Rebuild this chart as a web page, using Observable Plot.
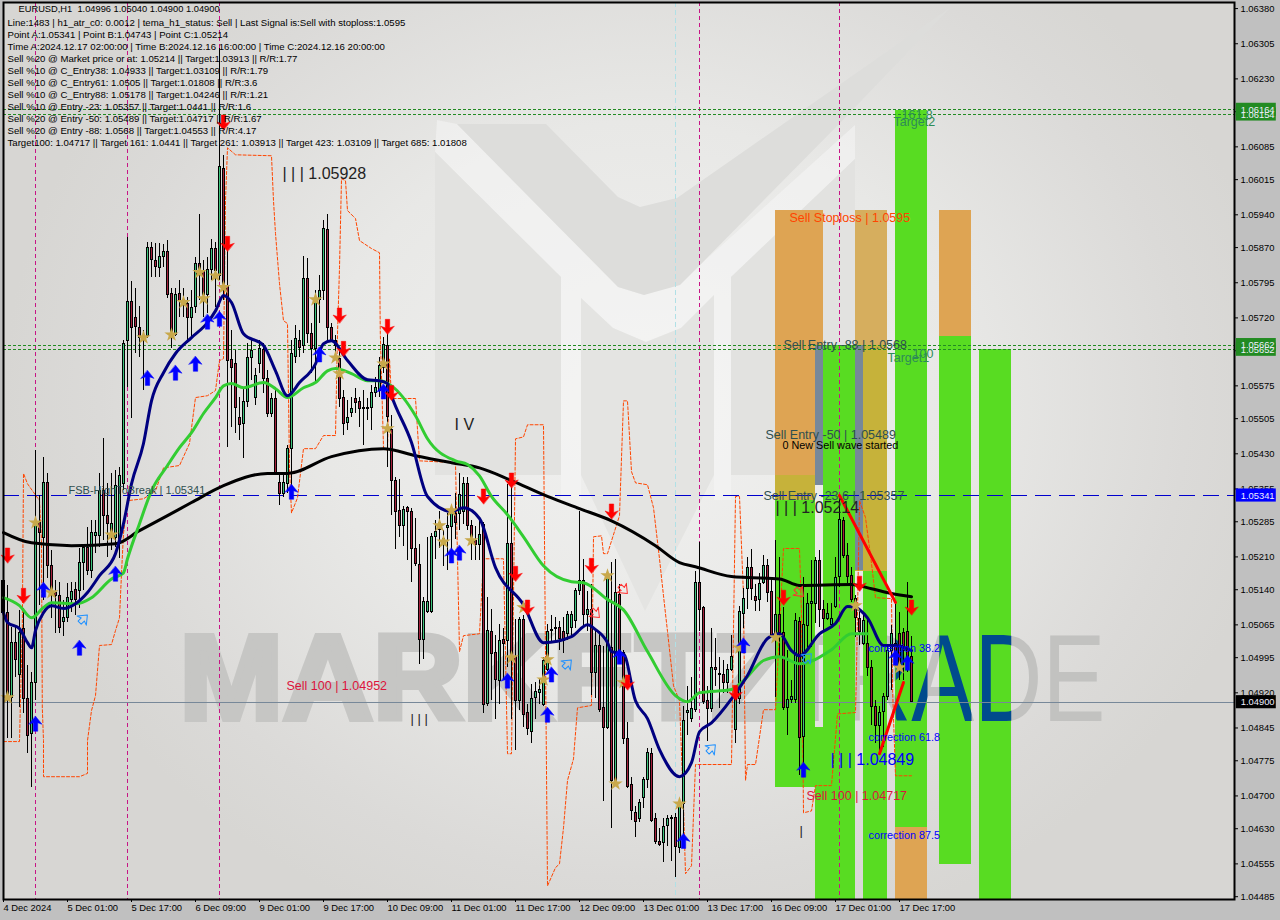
<!DOCTYPE html>
<html>
<head>
<meta charset="utf-8">
<script src="https://cdn.jsdelivr.net/npm/d3@7"></script>
<script src="https://cdn.jsdelivr.net/npm/@observablehq/plot@0.6"></script>
<style>
html,body{margin:0;padding:0;background:#c0c0c0}
#wrap{position:relative;width:1280px;height:920px;overflow:hidden;background:#c0c0c0}
#bg{position:absolute;left:3px;top:2px;width:1231px;height:897px;overflow:hidden;
background:radial-gradient(ellipse 640px 560px at 640px 400px,#f1f1f0 0,#e8e8e6 50%,#dbdad8 85%,#d7d6d3 100%)}
.lg{position:absolute;left:-3px;top:-2px;width:1280px;height:920px}
#chart{position:absolute;left:0;top:0}
#chart svg{background:transparent;display:block}
</style>
</head>
<body>
<div id="wrap">
<div id="bg">
<div class="lg" style="background:#f6f6f6;opacity:.55;clip-path:polygon(437px 120px,457px 124px,618px 287px,644px 295px,700px 265px,855px 125px,855px 159px,731px 277px,731px 500px,714px 500px,714px 295px,681px 328px,646px 342px,613px 328px,581px 298px,581px 500px,561px 500px,561px 277px,435px 152px)"></div>
<div class="lg" style="background:#dddddb;clip-path:polygon(457px 124px,546px 124px,618px 197px,640px 207px,677px 198px,951px 7px,840px 123px,700px 265px,680px 285px,644px 295px,618px 287px)"></div>
<div class="lg" style="background:#e2e2e0;clip-path:polygon(435px 152px,561px 277px,561px 475px,435px 475px)"></div>
<div class="lg" style="background:#e4e4e2;clip-path:polygon(581px 298px,613px 328px,646px 342px,681px 328px,714px 295px,714px 475px,645px 611px,581px 475px)"></div>
<div class="lg" style="background:#e2e2e0;clip-path:polygon(731px 277px,855px 159px,855px 475px,731px 475px)"></div>
</div>
<div id="chart"></div>
</div>
<script>
// Prices are stored as points: 5341 means 1.05341. Each row: open, close, high, low.
const candles = [
[5159,5091,5181,5031],[5091,4910,5149,4822],[4910,5027,5059,4822],[5027,4989,5063,4952],[4957,5048,5095,4888],
[5057,4907,5100,4875],[4907,4828,4978,4790],[4833,4942,4963,4718],[4942,5283,5437,4903],[5283,5262,5341,5106],
[5251,5368,5422,5117],[5368,5191,5388,5163],[5191,5138,5223,5078],[5134,5127,5159,5046],[5127,5059,5155,5046],
[5072,5080,5117,5040],[5080,5123,5153,5070],[5119,5136,5155,5091],[5140,5119,5155,5085],[5138,5196,5228,5100],
[5196,5228,5234,5138],[5228,5179,5272,5170],[5179,5262,5287,5164],[5255,5262,5287,5217],[5255,5351,5388,5230],
[5351,5298,5462,5245],[5298,5281,5366,5208],[5262,5281,5388,5223],[5251,5362,5394,5230],[5238,5383,5400,5206],
[5366,5665,5671,5351],[5671,5753,5891,5571],[5753,5699,5797,5505],[5720,5701,5782,5644],[5699,5678,5744,5635],
[5682,5676,5693,5565],[5682,5870,5881,5676],[5870,5844,5881,5806],[5842,5829,5878,5806],[5827,5851,5878,5806],
[5849,5861,5876,5827],[5861,5768,5885,5761],[5770,5689,5782,5654],[5684,5768,5782,5680],[5770,5757,5799,5720],
[5759,5750,5782,5720],[5750,5720,5763,5665],[5720,5742,5778,5678],[5744,5834,5849,5729],[5836,5823,5940,5757],
[5821,5768,5842,5720],[5768,5823,5849,5729],[5823,5868,5887,5799],[5866,5821,5881,5742],[5810,6041,6295,5799],
[6038,5785,6066,5757],[5785,5629,5863,5443],[5631,5614,5693,5486],[5622,5528,5650,5473],[5507,5492,5550,5458],
[5494,5541,5571,5420],[5541,5635,5665,5528],[5635,5650,5671,5586],[5550,5597,5612,5533],[5622,5654,5671,5601],
[5652,5590,5665,5558],[5590,5516,5607,5507],[5516,5546,5558,5507],[5546,5388,5571,5383],[5368,5345,5388,5319],
[5345,5368,5388,5336],[5366,5441,5447,5345],[5441,5642,5671,5351],[5637,5674,5703,5622],[5671,5656,5693,5635],
[5661,5802,5851,5644],[5802,5686,5846,5665],[5686,5654,5708,5601],[5654,5759,5778,5582],[5759,5778,5810,5708],
[5778,5910,5927,5757],[5908,5699,5940,5671],[5699,5671,5708,5667],[5671,5661,5682,5635],[5633,5548,5656,5528],
[5550,5494,5565,5469],[5496,5507,5543,5479],[5518,5526,5550,5507],[5546,5539,5569,5516],[5541,5526,5550,5486],
[5528,5526,5565,5447],[5528,5526,5548,5501],[5528,5560,5575,5479],[5560,5571,5593,5550],[5565,5618,5635,5550],
[5614,5663,5678,5601],[5659,5508,5690,5400],[5481,5372,5512,5298],[5372,5306,5380,5225],[5308,5277,5376,5252],
[5277,5310,5318,5233],[5314,5306,5318,5202],[5305,5226,5314,5155],[5227,5194,5291,5190],[5192,5033,5236,4980],
[5033,5114,5124,4992],[5093,5114,5252,5089],[5093,5252,5260,5089],[5252,5264,5287,5205],[5283,5267,5306,5229],
[5248,5240,5267,5190],[5271,5275,5302,5182],[5273,5306,5314,5205],[5302,5283,5345,5248],[5302,5343,5388,5267],
[5306,5366,5380,5279],[5366,5275,5380,5267],[5275,5248,5287,5202],[5244,5236,5275,5202],[5236,5257,5291,5202],
[5279,4895,5283,4876],[4897,5052,5124,4891],[5050,5002,5097,4903],[5004,4948,5042,4864],[4945,5031,5066,4895],
[5033,5025,5058,4949],[5031,5238,5364,4973],[5238,4996,5376,4864],[4996,4903,5077,4798],[4903,5075,5081,4883],
[5075,4872,5085,4845],[4876,4842,4895,4829],[4837,4907,4938,4811],[4909,4922,4942,4864],[4920,4925,4949,4895],
[4895,4988,4996,4891],[4969,5050,5066,4965],[5052,5054,5085,5027],[5056,5058,5081,5027],[5058,5035,5073,5011],
[5050,5031,5081,5004],[5046,5085,5093,5031],[5058,5085,5093,5039],[5073,5137,5143,5058],[5137,5159,5306,5128],
[5159,5085,5205,5058],[5085,5097,5136,5050],[5097,4963,5151,4914],[4963,5019,5058,4907],[5019,4883,5050,4879],
[4887,4845,5019,4689],[4845,5167,5174,4841],[5015,4732,5198,4631],[4728,5132,5205,4720],[5128,5004,5151,4996],
[5004,4821,5011,4810],[4821,4720,4856,4716],[4723,4668,4740,4647],[4664,4645,4678,4612],[4650,4684,4693,4643],
[4695,4734,4740,4674],[4734,4792,4802,4716],[4790,4647,4802,4643],[4651,4602,4662,4596],[4602,4596,4631,4592],
[4599,4633,4651,4557],[4635,4651,4658,4592],[4651,4652,4658,4561],[4653,4591,4662,4526],[4589,4682,4693,4577],
[4682,4860,4891,4604],[4878,4881,4934,4829],[4864,4886,4953,4856],[4883,5155,5178,4879],[5155,5097,5240,5050],
[5101,4901,5105,4895],[4903,4886,4934,4817],[4886,4974,5058,4879],[4974,4969,5035,4934],[4959,4960,4996,4887],
[4957,4942,4988,4918],[4942,4969,4980,4918],[4969,4997,5042,4965],[4841,4907,4934,4811],[4907,5093,5105,4895],
[5089,5120,5143,5058],[5142,5186,5209,5097],[5186,5142,5225,5116],[5124,5116,5151,5093],[5118,5153,5174,5093],
[5155,5191,5213,5151],[5190,5132,5205,5112],[5136,5042,5159,5039],[5044,5085,5245,4911],[5085,5047,5209,4996],
[5047,4888,5103,4882],[4888,4905,5010,4829],[4904,4911,4946,4897],[4904,5074,5089,4897],[5071,4824,5081,4744],
[4826,5064,5167,4744],[5062,5110,5131,5014],[5110,5113,5202,5017],[5110,5202,5209,5067],[5202,5096,5224,5060],
[5097,5078,5117,5053],[5078,5089,5110,5074],[5064,5078,5110,5060],[5103,5165,5209,5099],[5167,5288,5341,5145],
[5286,5213,5295,5206],[5211,5167,5238,5153],[5169,5118,5188,5113],[5121,5080,5128,5039],[5078,5050,5096,5021],
[5025,5074,5089,5021],[5025,4973,5074,4954],[4973,4890,4989,4850],[4890,4850,4904,4811],[4850,4877,4890,4794],
[4879,4912,4918,4804],[4911,5010,5021,4904],[5010,5045,5064,4925],[5025,4985,5110,4975],[5046,4978,5092,4946],
[5047,5010,5057,4946],[5050,4996,5156,4964],[4996,4900,5040,4900]
];
// Indicator lines: [bar index, points]
const blackLine = [[0,5262],[7,5240],[17,5234],[28,5238],[34,5266],[41,5298],[47,5326],[55,5362],[66,5388],[71,5388],[82,5424],[95,5441],[103,5426],[112,5411],[119,5400],[127,5373],[136,5339],[144,5313],[152,5287],[163,5234],[169,5198],[173,5189],[182,5168],[186,5166],[194,5163],[199,5149],[212,5151],[217,5142],[222,5132],[227,5125]];
const greenLine = [[0,5123],[4,5106],[7,5080],[10,5102],[12,5112],[18,5110],[22,5123],[27,5163],[30,5176],[31,5206],[34,5281],[37,5351],[41,5405],[44,5443],[47,5475],[50,5516],[53,5550],[55,5575],[57,5580],[60,5571],[65,5582],[68,5569],[71,5550],[75,5571],[78,5582],[81,5607],[83,5612],[87,5601],[91,5586],[94,5586],[97,5575],[103,5511],[106,5462],[113,5415],[116,5407],[119,5383],[122,5339],[126,5300],[130,5253],[135,5191],[142,5157],[145,5155],[151,5119],[155,5097],[161,5008],[168,4914],[171,4901],[174,4920],[182,4927],[185,4946],[190,4989],[194,4997],[199,4982],[207,5012],[212,5046],[216,5046]];
const blueLine = [[0,5091],[1,5070],[4,5057],[6,5027],[7,5016],[8,5053],[10,5091],[12,5106],[15,5100],[18,5110],[21,5134],[24,5170],[28,5217],[30,5281],[32,5366],[35,5452],[37,5543],[40,5603],[43,5644],[47,5678],[51,5710],[53,5735],[55,5768],[57,5753],[60,5686],[65,5661],[68,5607],[71,5554],[74,5582],[78,5622],[80,5665],[82,5671],[86,5629],[91,5588],[94,5586],[96,5580],[97,5554],[102,5454],[106,5339],[112,5307],[115,5315],[119,5292],[123,5187],[130,5108],[135,5027],[142,5040],[146,5065],[148,5055],[151,5027],[152,5008],[155,5003],[158,4903],[161,4865],[164,4799],[169,4741],[172,4771],[174,4837],[177,4856],[182,4907],[186,4957],[191,5036],[194,5046],[197,5010],[199,4999],[204,5046],[208,5068],[211,5104],[213,5102],[216,5080],[220,5021],[223,5021],[227,5010]];
const stopLine = [[0,4816],[4,4816],[4.2,4888],[4.7,5053],[5,5388],[6,5366],[9,5330],[9.5,5245],[9.7,4888],[10,4818],[10,4741],[19,4741],[21,4748],[21,4818],[22,4882],[23,4914],[24,5021],[27,5023],[28,5053],[29,5080],[29.5,5174],[30,5260],[31,5330],[35,5334],[38,5351],[40,5400],[44,5405],[46.5,5452],[48,5550],[51,5554],[53,5565],[54,5629],[55,5633],[55.5,5970],[56,6083],[58,6068],[67,6066],[67.5,5970],[68,5900],[69,5793],[70,5714],[71,5708],[71.5,5400],[72,5304],[73.5,5336],[75,5441],[78,5441],[80,5469],[83,5469],[83.5,5686],[84,5827],[84.5,6017],[85.5,6013],[86,5949],[88,5932],[89,5885],[92,5868],[94,5859],[94.2,5686],[95,5443],[96,5437],[96.5,5633],[97,5548],[103,5548],[104,5415],[113,5411],[114,5008],[115,5042],[119,5046],[120,5206],[125,5206],[126,4790],[127,4790],[128,5462],[130,5466],[131,5492],[135,5492],[136,4508],[138,4547],[139,4555],[140,4632],[141,4733],[142.5,4779],[143.5,4888],[147,4893],[147.5,5253],[149.5,5255],[150,5217],[151,5217],[154,5298],[155,5543],[156,5543],[157,5392],[158,5368],[161,5364],[162.5,5315],[164,5206],[165,5127],[166,5051],[167.5,4935],[169,4903],[170,4679],[170.5,4534],[172,4551],[173,4767],[182,4767],[183,5339],[184,5339],[185,5127],[185.5,4733],[186,4767],[188,4767],[190,4884],[193,4884],[195,5228],[199,5228],[199.5,5089],[200,4664],[202,4668],[203,4722],[207,4722],[208.5,4875],[213,4878],[213.2,4946],[214,5330],[215.5,5294],[217,5196],[218,5123],[222,5121],[222.3,4918],[223,4743],[227,4743]];
const waveDown = [[209,5341],[223,5113]];
const waveUp = [[219,4790],[225,4942]];
// Signals: [bar index, points]
const redArrows = [[1,5213],[5,5127],[55,6137],[56,5878],[84,5725],[85,5654],[96,5701],[97,5560],[120,5339],[127,5373],[128,5174],[131,5102],[147,5191],[152,5307],[156,4942],[183,4920],[195,5123],[214,5153],[227,5102]];
const blueArrows = [[8,4854],[10,5140],[19,5016],[28,5174],[36,5592],[43,5603],[48,5622],[51,5712],[54,5718],[72,5349],[79,5642],[95,5563],[112,5213],[114,5219],[126,4946],[136,4873],[137,4959],[154,4997],[170,4604],[185,5021],[200,4756],[223,4995],[226,4984]];
const hollowBlue = [[20,5078],[141,4982],[177,4801],[201,4995]];
const hollowRed = [[155,5140],[148,5089],[199,5134]];
const stars = [[1,4910],[8,5283],[12,5134],[27,5257],[35,5678],[42,5684],[45,5753],[49,5817],[50,5761],[53,5810],[55,5785],[78,5759],[83,5635],[84,5601],[95,5622],[96,5484],[112,5309],[109,5277],[110,5242],[117,5245],[127,4995],[130,5102],[136,4991],[135,4948],[151,5170],[153,4726],[155,4942],[169,4683],[184,5016],[193,5038],[213,5106],[224,4974]];
// Zones: [first bar, last bar, top points, bottom points, kind]
const zones = [
[193,205,5949,5383,"stop"],[193,203,5383,5330,"mix"],[193,203,5330,4718,"go"],
[205,213,5661,4400,"go"],[203,205,4846,4400,"go"],
[213,221,5949,5661,"stop2"],[213,221,5661,5178,"mix"],[215,221,5178,4400,"go"],
[223,231,6162,4632,"go"],[223,231,4632,4400,"stop"],
[234,242,5949,5680,"stop"],[234,242,5680,4553,"go"],
[244,252,5652,4400,"go"],
[203,205,5661,5362,"grey"],[213,215,5661,5180,"grey"]
];
const vMagenta = [8,31,54,174,209];
const vCyan = [168];
const greenLevels = [6164,6154,5662,5652];
const entryLevel = 5341;
const lastPrice = 4900;
const tags = [[6154,"g"],[6164,"g"],[5662,"g"],[5652,"g"],[5341,"b"],[4900,"k"]];
const yTicks = [6380,6305,6230,6160,6085,6015,5940,5870,5795,5720,5650,5575,5505,5430,5355,5285,5210,5140,5065,4995,4920,4845,4775,4700,4630,4555,4485];
const xTicks = [0,16,32,48,64,80,96,112,128,144,160,176,192,208,224];
const xLabels = ["4 Dec 2024","5 Dec 01:00","5 Dec 17:00","6 Dec 09:00","9 Dec 01:00","9 Dec 17:00","10 Dec 09:00","11 Dec 01:00","11 Dec 17:00","12 Dec 09:00","13 Dec 01:00","13 Dec 17:00","16 Dec 09:00","17 Dec 01:00","17 Dec 17:00"];
const headerLines = [
"Line:1483 | h1_atr_c0: 0.0012 | tema_h1_status: Sell | Last Signal is:Sell with stoploss:1.0595",
"Point A:1.05341 | Point B:1.04743 | Point C:1.05214",
"Time A:2024.12.17 02:00:00 | Time B:2024.12.16 16:00:00 | Time C:2024.12.16 20:00:00",
"Sell %20 @ Market price or at: 1.05214 || Target:1.03913 || R/R:1.77",
"Sell %10 @ C_Entry38: 1.04933 || Target:1.03109 || R/R:1.79",
"Sell %10 @ C_Entry61: 1.0505 || Target:1.01808 || R/R:3.6",
"Sell %10 @ C_Entry88: 1.05178 || Target:1.04246 || R/R:1.21",
"Sell %10 @ Entry -23: 1.05357 || Target:1.0441 || R/R:1.6",
"Sell %20 @ Entry -50: 1.05489 || Target:1.04717 || R/R:1.67",
"Sell %20 @ Entry -88: 1.0568 || Target:1.04553 || R/R:4.17",
"Target100: 1.04717 || Target 161: 1.0441 || Target 261: 1.03913 || Target 423: 1.03109 || Target 685: 1.01808"
];
const titleLine = "EURUSD,H1  1.04996 1.05040 1.04900 1.04900";
// Labels: [text, bar index, points, kind]
const labels = [
["Sell 100 | 1.04952",70.75,4935,"red"],["| | | 1.05928",69.75,6028,"wave"],["I V",112.75,5492,"wave"],["| | |",101.75,4865,"waveS"],
["FSB-HighToBreak | 1.05341",16.25,5351,"slateS"],["Sell Stoploss | 1.0595",196.5,5934,"orange"],["Sell Entry -88 | 1.0568",195,5663,"slate"],
["Target1",221,5635,"target"],["100",227.25,5644,"target"],["161.8",224.5,6152,"target"],["Target2",222.5,6137,"target"],
["Sell Entry -50 | 1.05489",190.5,5471,"slate"],["0 New Sell wave started",194.75,5447,"blackS"],["Sell Entry -23.6 | 1.05357",190,5339,"slate"],
["| | | 1.05214",193,5315,"wave"],["correction 38.2",216.25,5014,"blueS"],["correction 61.8",216.25,4824,"blueS"],["correction 87.5",216.25,4615,"blueS"],
["| | | 1.04849",206.75,4777,"waveB"],["Sell 100 | 1.04717",200.75,4700,"red"],["|",199,4626,"waveS"]
];

const pt = v => 1 + v / 1e5;
const rows = candles.map((c, i) => ({i, o: pt(c[0]), c: pt(c[1]), h: pt(c[2]), l: pt(c[3])}));
const zoneFill = {stop: "#DEA453", stop2: "#D6AE5E", mix: "#C6B23A", go: "#58DC22", grey: "#778899"};
const labelStyle = {
  red: ["#DC143C", 12.5], wave: ["#222", 16], waveS: ["#222", 13], waveB: ["#0000FF", 16], slateS: ["#2F4F4F", 11],
  orange: ["#FF4500", 12.5], slate: ["#2F4F4F", 12.5], target: ["#2E8B57", 12.5], blackS: ["#000", 10.8], blueS: ["#0000FF", 10.8]
};
const tagFill = {g: "#228B22", b: "#0000FF", k: "#000"};
const arrowUp = {draw(ctx, l) {
  ctx.moveTo(0, -l); ctx.lineTo(6.5, -l + 8); ctx.lineTo(2.2, -l + 6.5); ctx.lineTo(2.2, 0);
  ctx.lineTo(-2.2, 0); ctx.lineTo(-2.2, -l + 6.5); ctx.lineTo(-6.5, -l + 8); ctx.closePath();
}};
const font = "'Liberation Sans',Arial,sans-serif";
const lineOf = (arr, stroke, strokeWidth, extra = {}) =>
  Plot.line(arr, {x: d => d[0], y: d => pt(d[1]), stroke, strokeWidth, ...extra});
const arrows = (arr, opts) => Plot.vector(arr, {x: d => d[0], y: d => pt(d[1]), anchor: "middle", shape: arrowUp, ...opts});

const plot = Plot.plot({
  width: 1280, height: 920,
  marginLeft: 3, marginRight: 46, marginTop: 2, marginBottom: 21,
  style: {background: "transparent", fontFamily: font, overflow: "visible"},
  x: {type: "linear", domain: [0, 308], range: [3, 1235]},
  y: {type: "linear", domain: [pt(6393), pt(4479)], range: [2, 899]},
  marks: [
    Plot.text(["MARKETZ"], {x: 44, y: pt(4946), fontSize: 120, fill: "#c6c6c4", textAnchor: "start", lineAnchor: "middle", fontFamily: font, className: "wm"}),
    Plot.text(["TRADE"], {x: 195.5, y: pt(4946), fontSize: 125, fill: "#c2c2c0", textAnchor: "start", lineAnchor: "middle", fontFamily: font, className: "wm-trade"}),
    Plot.rect(zones, {x1: d => d[0], x2: d => d[1], y1: d => pt(d[2]), y2: d => pt(d[3]), fill: d => zoneFill[d[4]], shapeRendering: "crispEdges", clip: "frame", className: "zones"}),
    Plot.ruleX(vMagenta, {x: d => d, stroke: "#C71585", strokeWidth: 1, strokeDasharray: "4,3"}),
    Plot.ruleX(vCyan, {x: d => d, stroke: "#B0E0E6", strokeWidth: 1, strokeDasharray: "5,3"}),
    Plot.ruleY(greenLevels, {y: pt, stroke: "#228B22", strokeWidth: 1, strokeDasharray: "3,2", x1: 0, x2: 308, shapeRendering: "crispEdges"}),
    Plot.ruleY([entryLevel], {y: pt, stroke: "#0000CD", strokeWidth: 1, strokeDasharray: "16,8", x1: 0, x2: 308, shapeRendering: "crispEdges"}),
    Plot.ruleY([lastPrice], {y: pt, stroke: "#778899", strokeWidth: 1, x1: 0, x2: 308, shapeRendering: "crispEdges"}),
    lineOf(stopLine, "#FF4500", 1, {strokeDasharray: "3,2"}),
    Plot.ruleX(rows, {x: "i", y1: "l", y2: "h", stroke: "#000", strokeWidth: 1, shapeRendering: "crispEdges"}),
    Plot.rect(rows, {x1: d => d.i - .25, x2: d => d.i + .25, y1: "o", y2: "c",
      fill: d => d.c >= d.o ? "#3CC47C" : "#A5203C", stroke: "#000", strokeWidth: 1, shapeRendering: "crispEdges"}),
    lineOf(blackLine, "#000", 3, {curve: "monotone-x"}),
    lineOf(greenLine, "#32CD32", 3, {curve: "monotone-x"}),
    lineOf(blueLine, "#000080", 3, {curve: "monotone-x"}),
    lineOf(waveDown, "#FF0000", 3),
    lineOf(waveUp, "#FF0000", 3),
    Plot.dot(stars, {x: d => d[0], y: d => pt(d[1]), symbol: "star", r: 4.5, fill: "#C8A84B"}),
    arrows(blueArrows, {length: 15, fill: "#0000FF", stroke: "#0000FF", strokeWidth: .5}),
    arrows(redArrows, {length: 15, rotate: 180, fill: "#FF0000", stroke: "#FF0000", strokeWidth: .5}),
    arrows(hollowBlue, {length: 11, rotate: 45, fill: "none", stroke: "#1E90FF", strokeWidth: 1}),
    arrows(hollowRed, {length: 11, rotate: 135, fill: "none", stroke: "#FF3030", strokeWidth: 1}),
    Plot.text(labels, {x: d => d[1], y: d => pt(d[2]), text: d => d[0], fill: d => labelStyle[d[3]][0], fontSize: d => labelStyle[d[3]][1], textAnchor: "start", fontFamily: font}),
    Plot.frame({stroke: "#000", strokeWidth: 2}),
    Plot.text([titleLine], {frameAnchor: "top-left", dx: 15, dy: 3, fontSize: 9.3, fill: "#000", fontFamily: font}),
    ...headerLines.map((t, k) => Plot.text([t], {frameAnchor: "top-left", dx: 4, dy: 17 + 12 * k, fontSize: 9.6, fill: "#000", fontFamily: font})),
    Plot.axisY({anchor: "right", ticks: yTicks.map(pt), tickFormat: ".5f", tickSize: 3, tickPadding: 3, label: null, fontSize: 9.4, fill: "#000", fontFamily: font}),
    Plot.axisX({anchor: "bottom", ticks: xTicks, tickFormat: d => xLabels[xTicks.indexOf(d)], tickSize: 3, tickPadding: 2, label: null, textAnchor: "start", fontSize: 9.4, fill: "#000", fontFamily: font}),
    Plot.rect(tags, {x1: 308.2, x2: 318.2, y1: d => pt(d[0] + 14), y2: d => pt(d[0] - 14), fill: d => tagFill[d[1]]}),
    Plot.text(tags, {x: 309.3, y: d => pt(d[0]), text: d => (1 + d[0] / 1e5).toFixed(5), fill: "#eef", fontSize: 9.4, textAnchor: "start", fontFamily: font})
  ]
});

document.getElementById("chart").appendChild(plot);

// The watermark's last letters turn blue where the green zones cover them.
const svg = d3.select(plot);
const sx = plot.scale("x").apply, sy = plot.scale("y").apply;
const trade = svg.select("g.wm-trade");
trade.selectAll("text").attr("textLength", 320).attr("lengthAdjust", "spacingAndGlyphs");
svg.select("g.wm").selectAll("text").attr("textLength", 608).attr("lengthAdjust", "spacingAndGlyphs")
  .style("font-weight", "700").style("stroke", "#c6c6c4").style("stroke-width", "6px").style("stroke-linejoin", "miter");
const clip = svg.append("defs").append("clipPath").attr("id", "goZones");
zones.filter(z => z[4] === "go" && z[0] >= 223).forEach(z => {
  clip.append("rect").attr("x", sx(z[0])).attr("width", sx(z[1]) - sx(z[0])).attr("y", sy(pt(z[2]))).attr("height", sy(pt(z[3])) - sy(pt(z[2])));
});
const clone = trade.node().cloneNode(true);
d3.select(clone).attr("fill", "#004B8D").attr("clip-path", "url(#goZones)");
const zoneG = svg.select("g.zones").node();
zoneG.parentNode.insertBefore(clone, zoneG.nextSibling);
</script>
</body>
</html>
